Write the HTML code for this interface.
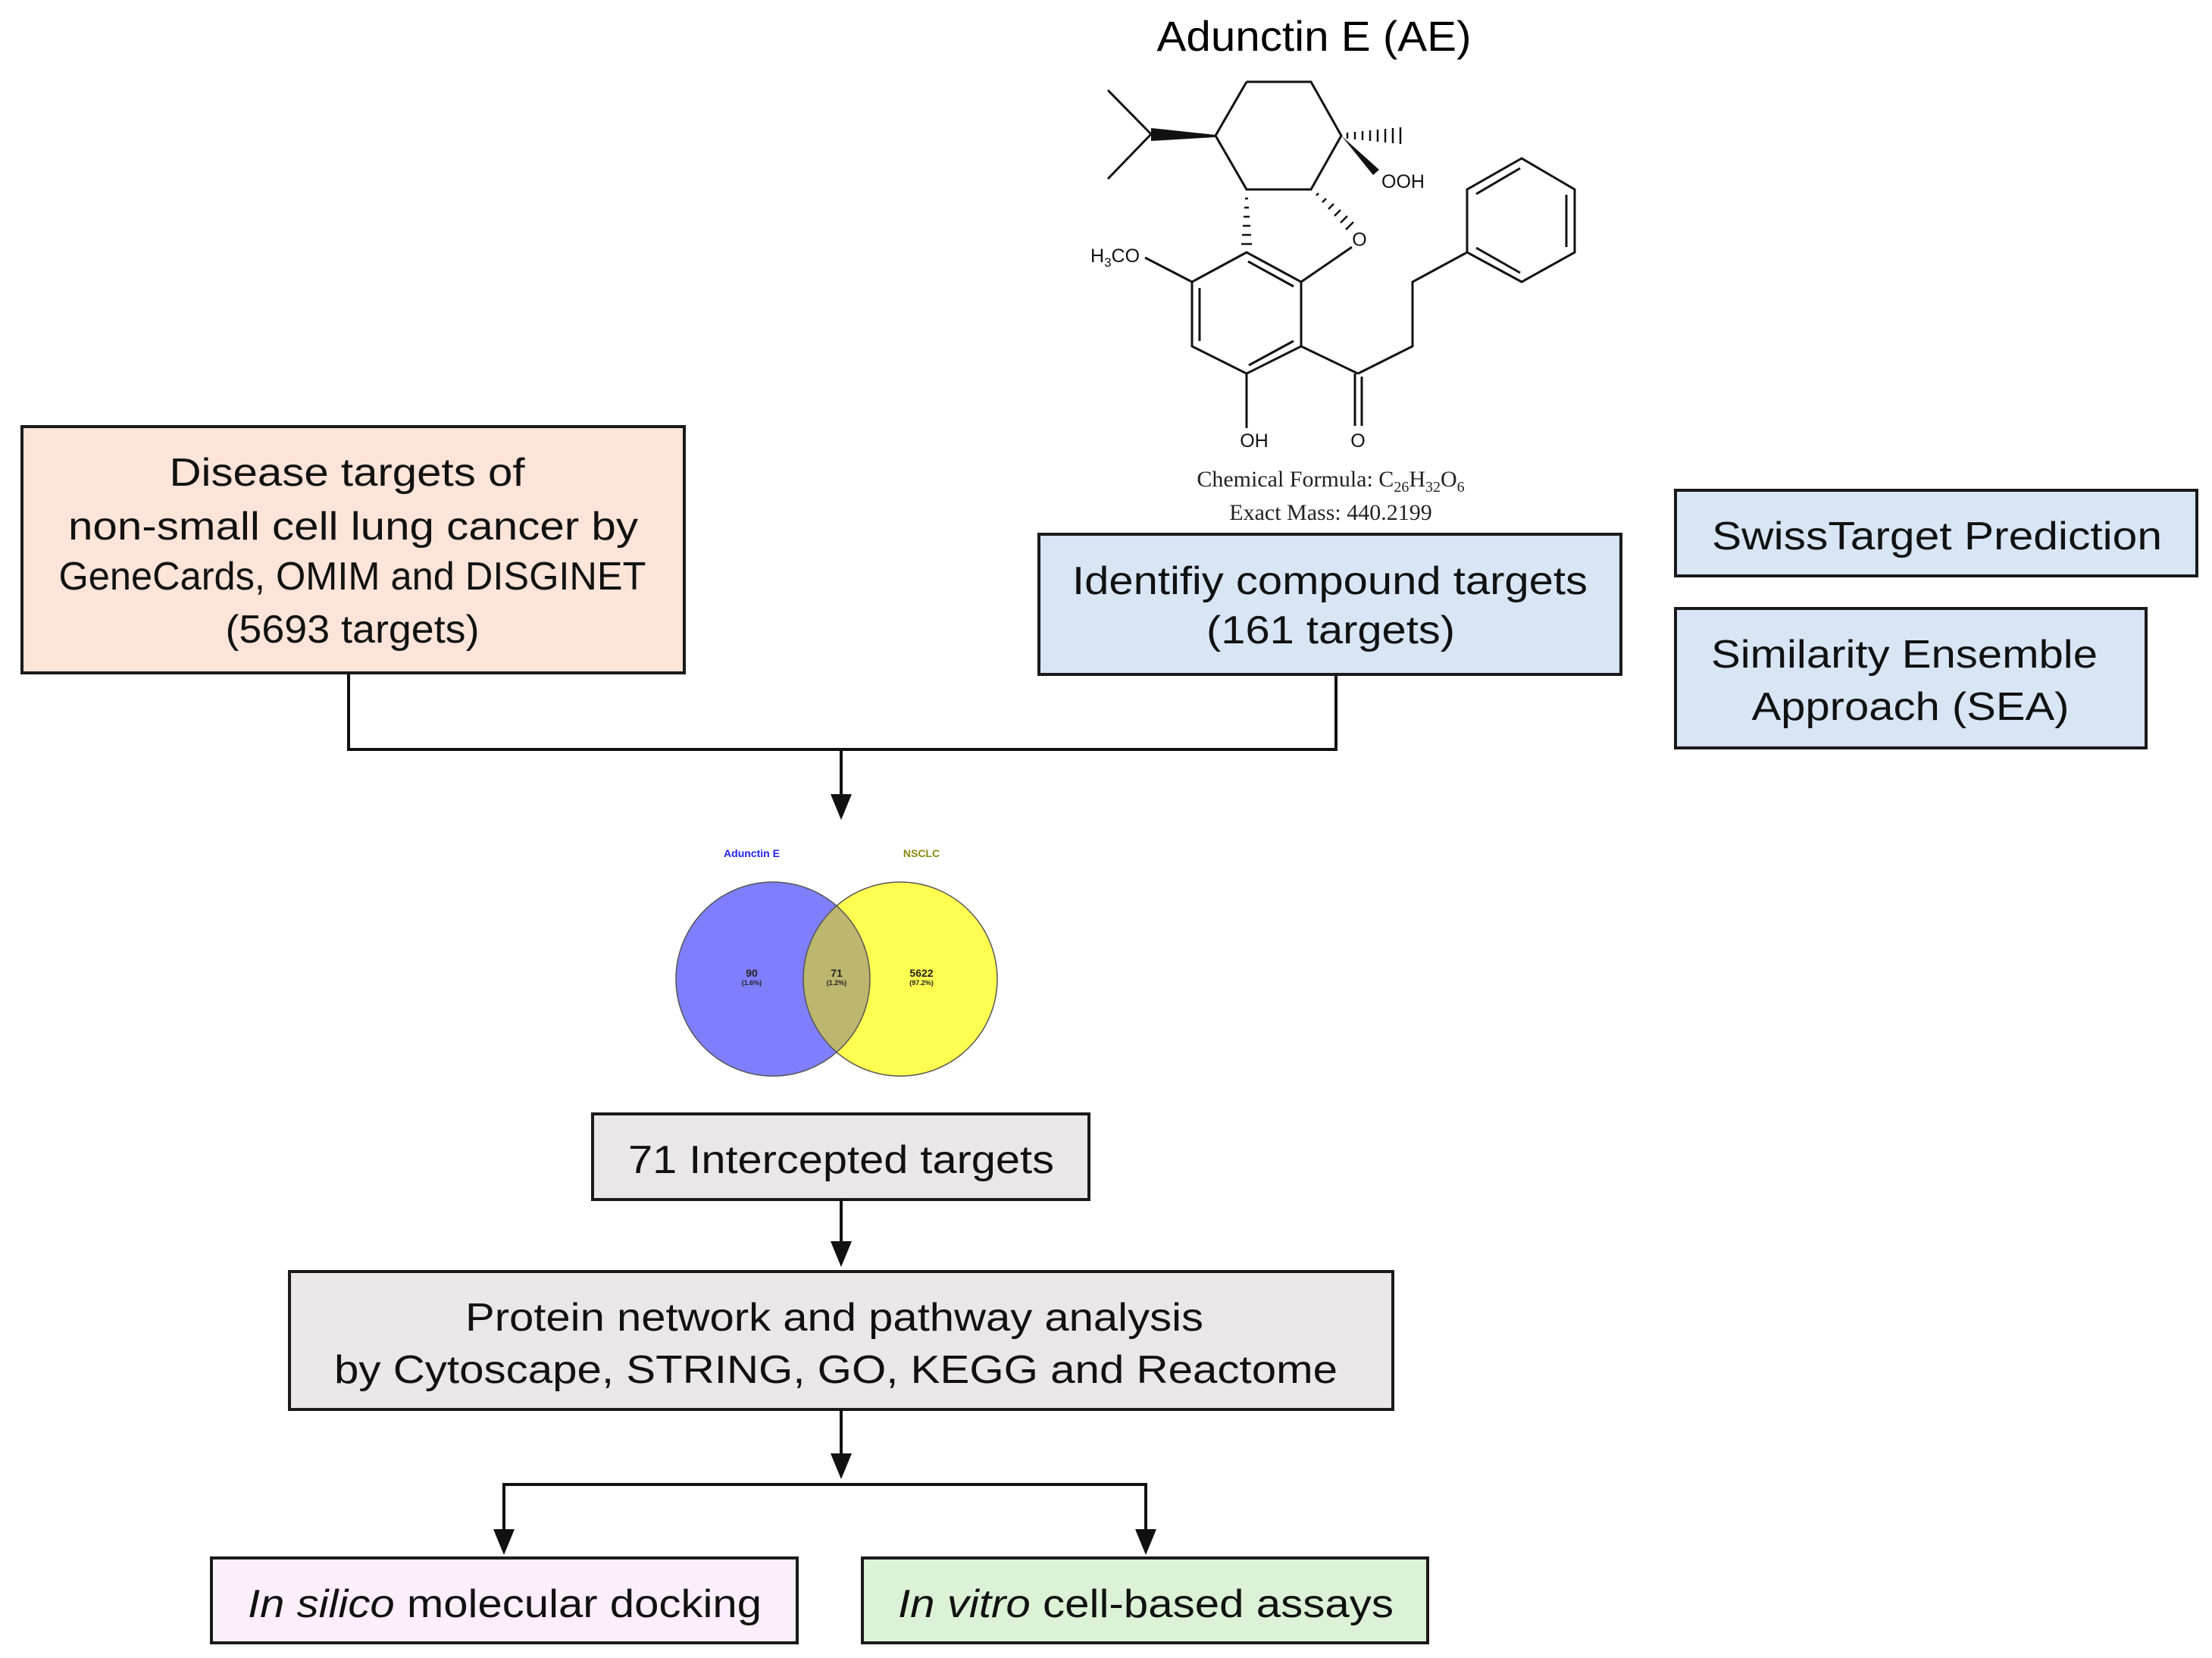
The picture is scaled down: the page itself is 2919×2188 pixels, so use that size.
<!DOCTYPE html>
<html><head><meta charset="utf-8"><style>html,body{margin:0;padding:0;background:#fff}svg{display:block}</style></head>
<body>
<svg width="2919" height="2188" viewBox="0 0 2919 2188" xmlns="http://www.w3.org/2000/svg" font-family="Liberation Sans, Arial, sans-serif">
<!-- Title -->
<text x="1734" y="67" font-size="56" text-anchor="middle" textLength="415" lengthAdjust="spacingAndGlyphs">Adunctin E (AE)</text>
<!-- Molecule -->
<g stroke="#111" stroke-width="3" fill="none">
<polyline points="1645,108 1730,108 1770,179 1730,250 1645,250 1604,179 1645,108"/>
<line x1="1519" y1="177" x2="1462" y2="119"/><line x1="1519" y1="177" x2="1462" y2="236"/>
<polyline points="1573,372 1645,333 1717,372 1717,457 1645,493 1573,457 1573,372"/>
<line x1="1583" y1="380" x2="1583" y2="450"/>
<line x1="1647" y1="345" x2="1707" y2="378"/>
<line x1="1648" y1="482" x2="1707" y2="450"/>
<line x1="1717" y1="372" x2="1784" y2="326"/>
<line x1="1573" y1="372" x2="1511" y2="340"/>
<line x1="1645" y1="493" x2="1645" y2="565"/>
<line x1="1717" y1="457" x2="1792" y2="493"/>
<line x1="1788" y1="493" x2="1788" y2="562"/><line x1="1797" y1="497" x2="1797" y2="562"/>
<polyline points="1792,493 1864,457 1864,372 1936,333"/>
<polygon points="1936,333 1936,250 2008,209 2078,250 2078,333 2008,372"/>
<line x1="1948" y1="256" x2="2006" y2="222"/><line x1="2067" y1="257" x2="2067" y2="326"/><line x1="1948" y1="327" x2="2006" y2="360"/>
</g>
<g fill="#111">
<polygon points="1604,178 1604,181 1519,186 1519,169"/>
<polygon points="1770,179 1812,231 1820,224"/>
</g>
<g stroke="#111" stroke-width="2.5">
<line x1="1778" y1="175" x2="1778" y2="183"/><line x1="1788" y1="174" x2="1788" y2="184"/><line x1="1798" y1="173" x2="1798" y2="185"/><line x1="1808" y1="172" x2="1808" y2="186"/><line x1="1818" y1="171" x2="1818" y2="187"/><line x1="1828" y1="170" x2="1828" y2="188"/><line x1="1838" y1="169" x2="1838" y2="189"/><line x1="1848" y1="168" x2="1848" y2="190"/>
<line x1="1643" y1="262" x2="1647" y2="262"/><line x1="1642" y1="274" x2="1648" y2="274"/><line x1="1641" y1="286" x2="1649" y2="286"/><line x1="1640" y1="298" x2="1650" y2="298"/><line x1="1639" y1="310" x2="1651" y2="310"/><line x1="1638" y1="322" x2="1652" y2="322"/>
<line x1="1737" y1="258" x2="1740" y2="255"/><line x1="1745" y1="267" x2="1750" y2="262"/><line x1="1753" y1="276" x2="1760" y2="269"/><line x1="1761" y1="285" x2="1769" y2="277"/><line x1="1769" y1="294" x2="1778" y2="285"/><line x1="1776" y1="303" x2="1786" y2="293"/>
</g>
<g font-size="25" fill="#111">
<text x="1794" y="318" text-anchor="middle" dominant-baseline="middle">O</text>
<text x="1823" y="248">OOH</text>
<text x="1439" y="346">H<tspan font-size="17" dy="6">3</tspan><tspan dy="-6">CO</tspan></text>
<text x="1655" y="590" text-anchor="middle">OH</text>
<text x="1792" y="590" text-anchor="middle">O</text>
</g>
<g font-family="Liberation Serif, serif" font-size="30" fill="#222" text-anchor="middle">
<text x="1756" y="642">Chemical Formula: C<tspan font-size="20" dy="7">26</tspan><tspan dy="-7">H</tspan><tspan font-size="20" dy="7">32</tspan><tspan dy="-7">O</tspan><tspan font-size="20" dy="7">6</tspan></text>
<text x="1756" y="686">Exact Mass: 440.2199</text>
</g>
<!-- Boxes -->
<g stroke="#1a1a1a" stroke-width="4">
<rect x="29" y="563" width="874" height="325" fill="#fde4d8"/>
<rect x="1371" y="705" width="768" height="185" fill="#d7e5f5"/>
<rect x="2211" y="647" width="688" height="113" fill="#d7e5f5"/>
<rect x="2211" y="803" width="621" height="184" fill="#d7e5f5"/>
<rect x="782" y="1470" width="655" height="113" fill="#e9e7e7"/>
<rect x="382" y="1678" width="1456" height="182" fill="#e9e7e7"/>
<rect x="279" y="2056" width="773" height="112" fill="#fdeefc"/>
<rect x="1138" y="2056" width="746" height="112" fill="#dcf2d6"/>
</g>
<g font-size="52" fill="#111" text-anchor="middle">
<text x="458" y="641" textLength="469" lengthAdjust="spacingAndGlyphs">Disease targets of</text>
<text x="466" y="712" textLength="752" lengthAdjust="spacingAndGlyphs">non-small cell lung cancer by</text>
<text x="465" y="778" textLength="775" lengthAdjust="spacingAndGlyphs">GeneCards, OMIM and DISGINET</text>
<text x="465" y="848" textLength="335" lengthAdjust="spacingAndGlyphs">(5693 targets)</text>
<text x="1755" y="784" textLength="680" lengthAdjust="spacingAndGlyphs">Identifiy compound targets</text>
<text x="1756" y="849" textLength="328" lengthAdjust="spacingAndGlyphs">(161 targets)</text>
<text x="2556" y="725" textLength="594" lengthAdjust="spacingAndGlyphs">SwissTarget Prediction</text>
<text x="2513" y="881" textLength="510" lengthAdjust="spacingAndGlyphs">Similarity Ensemble</text>
<text x="2521" y="950" textLength="419" lengthAdjust="spacingAndGlyphs">Approach (SEA)</text>
<text x="1110" y="1548" textLength="562" lengthAdjust="spacingAndGlyphs">71 Intercepted targets</text>
<text x="1101" y="1756" textLength="974" lengthAdjust="spacingAndGlyphs">Protein network and pathway analysis</text>
<text x="1103" y="1825" textLength="1324" lengthAdjust="spacingAndGlyphs">by Cytoscape, STRING, GO, KEGG and Reactome</text>
<text x="666" y="2134" textLength="678" lengthAdjust="spacingAndGlyphs"><tspan font-style="italic">In silico</tspan> molecular docking</text>
<text x="1512" y="2134" textLength="654" lengthAdjust="spacingAndGlyphs"><tspan font-style="italic">In vitro</tspan> cell-based assays</text>
</g>
<!-- Connectors -->
<g stroke="#111" stroke-width="4" fill="none">
<polyline points="460,888 460,989 1763,989 1763,890"/>
<line x1="1110" y1="989" x2="1110" y2="1050"/>
<line x1="1110" y1="1583" x2="1110" y2="1640"/>
<line x1="1110" y1="1860" x2="1110" y2="1920"/>
<polyline points="665,2020 665,1959 1512,1959 1512,2020"/>
</g>
<g fill="#111">
<polygon points="1096,1048 1124,1048 1110,1082"/>
<polygon points="1096,1638 1124,1638 1110,1672"/>
<polygon points="1096,1918 1124,1918 1110,1952"/>
<polygon points="651,2018 679,2018 665,2052"/>
<polygon points="1498,2018 1526,2018 1512,2052"/>
</g>
<!-- Venn -->
<circle cx="1020" cy="1292" r="128" fill="#7f7ffd"/>
<circle cx="1188" cy="1292" r="128" fill="#fefe50"/>
<path d="M1104,1195 A128,128 0 0 1 1104,1389 A128,128 0 0 1 1104,1195 Z" fill="#bdb66e"/>
<circle cx="1020" cy="1292" r="128" fill="none" stroke="#555" stroke-width="1.5"/>
<circle cx="1188" cy="1292" r="128" fill="none" stroke="#555" stroke-width="1.5"/>
<g font-weight="bold" text-anchor="middle">
<text x="992" y="1131" font-size="14" fill="#2222ee">Adunctin E</text>
<text x="1216" y="1131" font-size="14" fill="#888810">NSCLC</text>
<g fill="#222"><text x="992" y="1289" font-size="14">90</text><text x="1104" y="1289" font-size="14">71</text><text x="1216" y="1289" font-size="14">5622</text>
<text x="992" y="1300" font-size="9">(1.6%)</text><text x="1104" y="1300" font-size="9">(1.2%)</text><text x="1216" y="1300" font-size="9">(97.2%)</text></g>
</g>
</svg>
</body></html>
